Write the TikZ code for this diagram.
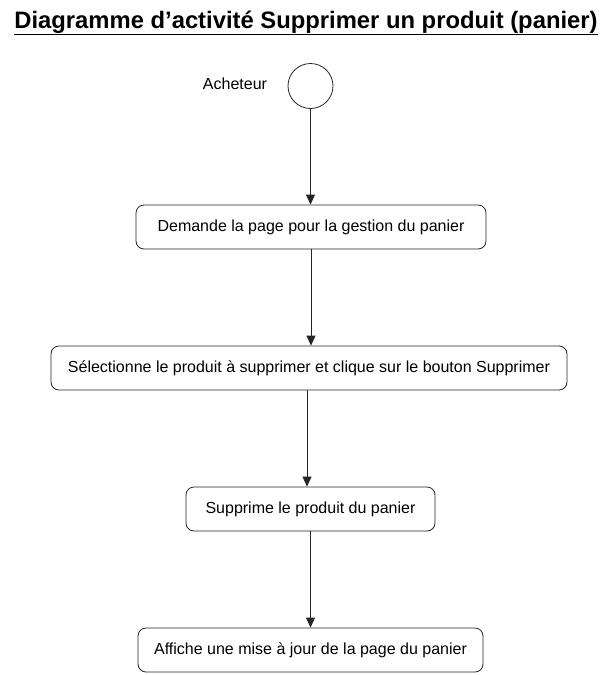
\documentclass[tikz,border=0pt]{standalone}
\usepackage{fontspec}
\setmainfont{Liberation Sans}
\usetikzlibrary{arrows.meta}

\begin{document}
\begin{tikzpicture}[x=1pt, y=-1pt,
	activity/.style={draw=black!85, line width=0.8pt, rounded corners=8pt, minimum height=44pt, inner sep=0pt, font=\fontsize{16}{19}\selectfont},
	flow/.style={-{Triangle[length=10pt,width=9pt]}, draw=black!85, line width=0.8pt}]
	\useasboundingbox (0,0) rectangle (612,675);
	\node (title) at (306,23) {\fontsize{23.8}{28}\selectfont\bfseries\underline{Diagramme d’activité Supprimer un produit (panier)}};
	\node[draw=black!85, line width=0.8pt, circle, minimum size=45pt, inner sep=0pt] (start) at (310.5,86) {};
	\node[font=\fontsize{16}{19}\selectfont] (actor) at (235,84) {Acheteur};
	\node[activity, minimum width=350pt] (page) at (311,227) {Demande la page pour la gestion du panier};
	\node[activity, minimum width=516pt] (select) at (309,368) {Sélectionne le produit à supprimer et clique sur le bouton Supprimer};
	\node[activity, minimum width=249pt] (remove) at (310.5,509) {Supprime le produit du panier};
	\node[activity, minimum width=345pt] (update) at (310.5,650) {Affiche une mise à jour de la page du panier};
	\draw[flow] (start) -- (start |- page.north);
	\draw[flow] (page.south) -- (page.south |- select.north);
	\draw[flow] (select.south -| 307,0) -- (remove.north -| 307,0);
	\draw[flow] (remove.south) -- (remove.south |- update.north);
\end{tikzpicture}
\end{document}
